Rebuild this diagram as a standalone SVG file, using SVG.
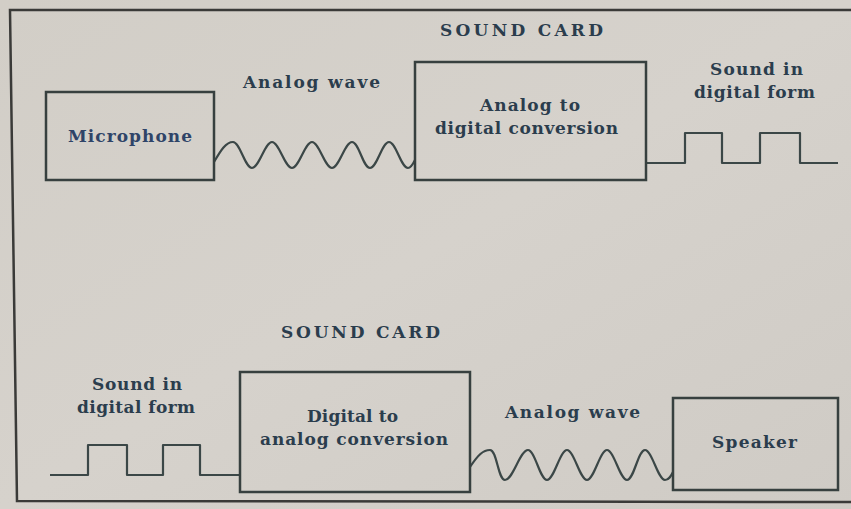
<svg xmlns="http://www.w3.org/2000/svg" width="851" height="509" viewBox="0 0 851 509">
  <defs>
    <linearGradient id="bg" x1="0" y1="0" x2="1" y2="1">
      <stop offset="0" stop-color="#d2cec7"/>
      <stop offset="0.5" stop-color="#d6d2cc"/>
      <stop offset="1" stop-color="#cfcbc5"/>
    </linearGradient>
  </defs>
  <style>
    .box { fill: none; stroke: #37403f; stroke-width: 2.5; }
    .wire { fill: none; stroke: #3b4747; stroke-width: 2.2; stroke-linejoin: round; }
    .frame { fill: none; stroke: #3a3a38; stroke-width: 2.5; }
    .t { font-family: "DejaVu Serif", "Liberation Serif", serif; font-weight: bold; fill: #2b3d4d; font-size: 17px; }
  </style>
  <rect x="0" y="0" width="851" height="509" fill="url(#bg)"/>
  <path class="frame" d="M851,10 L10,10 L17,501 L851,502"/>

  <g id="connectors">
    <path id="wave-top" class="wire" d="M214,162 C221,150 226,142 233,142 C240,142 245,168 252,168 C259,168 265,142 272,142 C279,142 285,168 292,168 C299,168 305,142 312,142 C319,142 325,168 332,168 C339,168 345,142 352,142 C359,142 363,168 370,168 C377,168 382,142 389,142 C396,142 401,168 408,168 C411,168 413,164 415,160"/>
    <path id="square-top" class="wire" d="M646,163 L685,163 L685,133 L722,133 L722,163 L760,163 L760,133 L800,133 L800,163 L838,163"/>
    <path id="square-bottom" class="wire" d="M50,475 L88,475 L88,445 L127,445 L127,475 L163,475 L163,445 L200,445 L200,475 L240,475"/>
    <path id="wave-bottom" class="wire" d="M470,467 C478,455 483,450 490,450 C497,450 498,480 505,480 C513,480 520,450 528,450 C535,450 540,480 547,480 C554,480 560,450 567,450 C574,450 580,480 587,480 C594,480 600,450 607,450 C614,450 620,480 627,480 C634,480 638,450 645,450 C652,450 658,480 665,480 C669,480 671,476 673,472"/>
  </g>

  <g id="label-soundcard-top">
    <text class="t" x="440" y="36" textLength="163" lengthAdjust="spacing">SOUND CARD</text>
  </g>
  <g id="label-analog-wave-top">
    <text class="t" x="243" y="88" textLength="137" lengthAdjust="spacing">Analog wave</text>
  </g>
  <g id="microphone">
    <rect class="box" x="46" y="92" width="168" height="88"/>
    <text class="t" x="68" y="142" textLength="124" lengthAdjust="spacing" style="fill:#2f4468">Microphone</text>
  </g>
  <g id="adc">
    <rect class="box" x="415" y="62" width="231" height="118"/>
    <text class="t" x="480" y="111" textLength="100" lengthAdjust="spacing">Analog to</text>
    <text class="t" x="435" y="134" textLength="183" lengthAdjust="spacing">digital conversion</text>
  </g>
  <g id="label-digital-top">
    <text class="t" x="710" y="75" textLength="93" lengthAdjust="spacing">Sound in</text>
    <text class="t" x="694" y="98" textLength="121" lengthAdjust="spacing">digital form</text>
  </g>

  <g id="label-soundcard-bottom">
    <text class="t" x="281" y="338" textLength="159" lengthAdjust="spacing">SOUND CARD</text>
  </g>
  <g id="label-digital-bottom">
    <text class="t" x="92" y="390" textLength="90" lengthAdjust="spacing">Sound in</text>
    <text class="t" x="77" y="413" textLength="118" lengthAdjust="spacing">digital form</text>
  </g>
  <g id="dac">
    <rect class="box" x="240" y="372" width="230" height="120"/>
    <text class="t" x="307" y="422" textLength="91" lengthAdjust="spacing">Digital to</text>
    <text class="t" x="260" y="445" textLength="188" lengthAdjust="spacing">analog conversion</text>
  </g>
  <g id="label-analog-wave-bottom">
    <text class="t" x="505" y="418" textLength="135" lengthAdjust="spacing">Analog wave</text>
  </g>
  <g id="speaker">
    <rect class="box" x="673" y="398" width="165" height="92"/>
    <text class="t" x="712" y="448" textLength="85" lengthAdjust="spacing">Speaker</text>
  </g>
</svg>
